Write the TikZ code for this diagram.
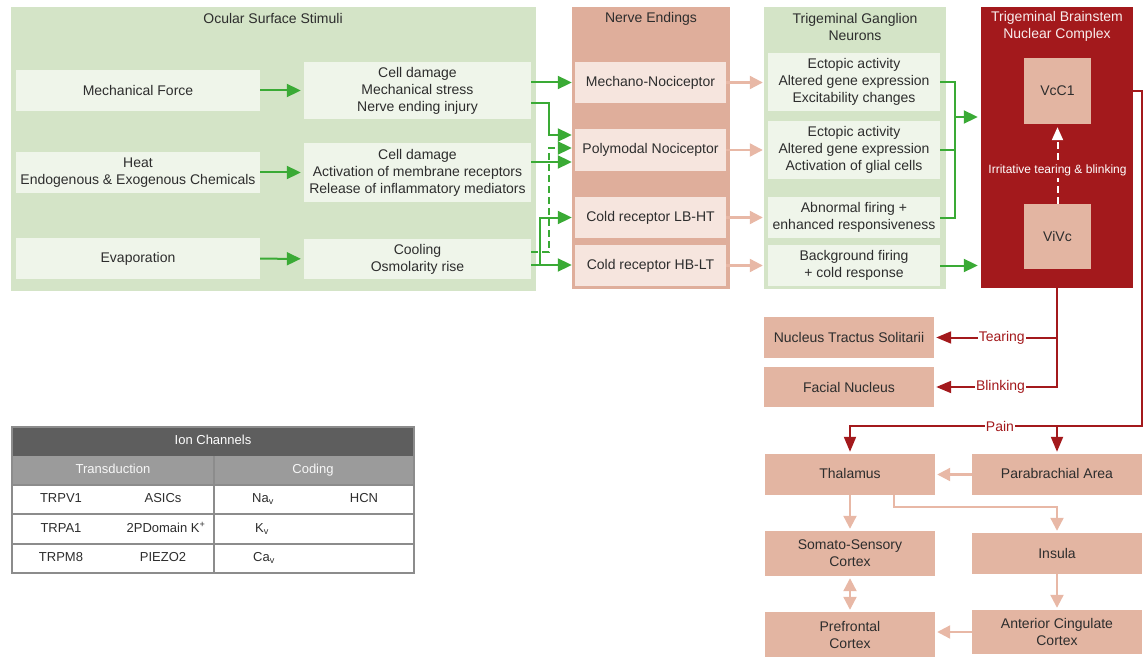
\documentclass[tikz,border=0pt]{standalone}
\usepackage{fontspec}
\setmainfont{Liberation Sans}
\definecolor{stimgreen}{RGB}{212,228,199}
\definecolor{boxgreen}{RGB}{239,245,234}
\definecolor{arrgreen}{RGB}{58,170,53}
\definecolor{nervesalmon}{RGB}{223,174,155}
\definecolor{boxsalmon}{RGB}{246,229,222}
\definecolor{lowsalmon}{RGB}{227,181,162}
\definecolor{arrsalmon}{RGB}{232,184,166}
\definecolor{brainred}{RGB}{163,25,28}
\definecolor{textgray}{RGB}{45,45,45}
\definecolor{tabdark}{RGB}{94,94,94}
\definecolor{tabmid}{RGB}{155,155,155}
\definecolor{tabline}{RGB}{140,140,140}
\usetikzlibrary{arrows.meta,positioning,calc}

\begin{document}
\begin{tikzpicture}[x=1pt,y=-1pt,
    txt/.style={font=\fontsize{14}{17}\selectfont, text=textgray, align=center},
    sz/.style 2 args={minimum width=#1pt, minimum height=#2pt},
    panel/.style={inner sep=0pt},
    gbox/.style={txt, fill=boxgreen, inner sep=0pt},
    sbox/.style={txt, fill=boxsalmon, inner sep=0pt},
    rbox/.style={txt, fill=lowsalmon, inner sep=0pt},
    lbox/.style={txt, fill=lowsalmon, inner sep=0pt},
    gline/.style={draw=arrgreen, line width=2pt},
    garr/.style={gline, shorten >=3pt, -{Triangle[length=14pt,width=13pt]}},
    sarr/.style={draw=arrsalmon, line width=2.2pt, shorten >=2pt, -{Triangle[length=13pt,width=13pt]}},
    rarr/.style={draw=brainred, line width=2pt, shorten >=2pt, -{Triangle[length=15pt,width=12pt]}},
    rlbl/.style={font=\fontsize{14}{17}\selectfont, text=brainred, fill=white, inner sep=1pt},
    tabtxt/.style={font=\fontsize{13}{15}\selectfont, text=textgray, text height=9.5pt, text depth=3pt}]
    \useasboundingbox (0,0) rectangle (1144,658);

    % Ocular surface stimuli
    \node[panel, fill=stimgreen, sz={525}{284}] (stim) at (273.5,149) {};
    \node[txt] (stimT) at (273,18) {Ocular Surface Stimuli};
    \node[gbox, sz={244}{41}] (mf) at (138,90.5) {Mechanical Force};
    \node[gbox, sz={227}{57}] (cd1) at (417.5,90.5) {Cell damage\\Mechanical stress\\Nerve ending injury};
    \node[gbox, sz={244}{41}] (heat) at (138,172.5) {Heat\\Endogenous \& Exogenous Chemicals};
    \node[gbox, sz={227}{59}] (cd2) at (417.5,172.5) {Cell damage\\Activation of membrane receptors\\Release of inflammatory mediators};
    \node[gbox, sz={244}{41}] (evap) at (138,258.5) {Evaporation};
    \node[gbox, sz={227}{40}] (cool) at (417.5,259) {Cooling\\Osmolarity rise};

    % Nerve endings
    \node[panel, fill=nervesalmon, sz={158}{282}] (nerve) at (651,148) {};
    \node[txt] (nerveT) at (651,19) {Nerve Endings};
    \node[sbox, sz={151}{41}] (mech) at (650.5,82.5) {Mechano-Nociceptor};
    \node[sbox, sz={151}{42}] (poly) at (650.5,150) {Polymodal Nociceptor};
    \node[sbox, sz={151}{41}] (lbht) at (650.5,217.5) {Cold receptor LB-HT};
    \node[sbox, sz={151}{41}] (hblt) at (650.5,265.5) {Cold receptor HB-LT};

    % Trigeminal ganglion
    \node[panel, fill=stimgreen, sz={182}{282}] (gang) at (855,148) {};
    \node[txt] (gangT) at (855,26.5) {Trigeminal Ganglion\\Neurons};
    \node[gbox, sz={172}{58}] (g1) at (854,82) {Ectopic activity\\Altered gene expression\\Excitability changes};
    \node[gbox, sz={172}{58}] (g2) at (854,150) {Ectopic activity\\Altered gene expression\\Activation of glial cells};
    \node[gbox, sz={172}{41}] (g3) at (854,217.5) {Abnormal firing +\\enhanced responsiveness};
    \node[gbox, sz={172}{41}] (g4) at (854,265.5) {Background firing\\+ cold response};

    % Brainstem
    \node[panel, fill=brainred, sz={152}{281}] (bs) at (1057,147.5) {};
    \node[txt, text=white!92!brainred] (bsT) at (1057,26) {Trigeminal Brainstem\\Nuclear Complex};
    \node[rbox, sz={67}{66}] (vcc) at (1057.5,91) {VcC1};
    \node[rbox, sz={67}{65}] (vivc) at (1057.5,236.5) {ViVc};
    \draw[draw=white, line width=2pt, dash pattern=on 7pt off 4pt, shorten >=3pt,
          -{Triangle[length=13pt,width=11pt]}] (vivc.north) -- node[pos=0.42, fill=brainred, text=white,
          font=\fontsize{12}{14}\selectfont, inner sep=2pt] (irrL) {Irritative tearing \& blinking} (vcc.south);

    % Projections
    \node[lbox, sz={170}{41}] (nts) at (849,337.5) {Nucleus Tractus Solitarii};
    \node[lbox, sz={170}{40}] (facial) at (849,387) {Facial Nucleus};
    \node[lbox, sz={170}{41}, text depth=3pt] (thal) at (850,474.5) {Thalamus};
    \node[lbox, sz={170}{41}, text depth=3pt] (para) at (1057,474.5) {Parabrachial Area};
    \node[lbox, sz={170}{45}] (somato) at (850,553.5) {Somato-Sensory\\Cortex};
    \node[lbox, sz={170}{41}] (insula) at (1057,553.5) {Insula};
    \node[lbox, sz={170}{45}] (pref) at (850,634.5) {Prefrontal\\Cortex};
    \node[lbox, sz={170}{44}] (acc) at (1057,632) {Anterior Cingulate\\Cortex};

    % Green arrows
    \coordinate (jA) at (549,135);
    \coordinate (jB) at (549,148);
    \coordinate (jC) at (540,217.5);
    \coordinate (jG) at (955,117);
    \draw[garr] (mf) -- (cd1);
    \draw[garr] (heat) -- (cd2);
    \draw[garr] (evap) -- (cool);
    \draw[garr] (cd1.east |- mech) -- (mech);
    \draw[garr] ($(cd1.east)+(0,12.5)$) -| (jA) -- (jA -| poly.west);
    \draw[garr, dash pattern=on 7pt off 4pt] ($(cool.east)+(0,-7)$) -| (jB) -- (jB -| poly.west);
    \draw[garr] ($(cd2.east)+(0,-10.5)$) coordinate (c2) -- (c2 -| poly.west);
    \draw[garr] ($(cool.east)+(0,6)$) coordinate (c3) -- (c3 -| hblt.west);
    \draw[garr] (c3) -| (jC) -- (jC -| lbht.west);
    \draw[gline] (g1.east) -| (jG |- g3.east) -- (g3.east);
    \draw[gline] (g2.east) -- (g2.east -| jG);
    \draw[garr] (jG) -- (jG -| bs.west);
    \draw[garr] (g4.east) -- (g4.east -| bs.west);

    % Salmon arrows
    \foreach \a/\b in {mech/g1, poly/g2, lbht/g3, hblt/g4} {
        \draw[sarr, shorten >=5pt] (\a.east) -- (\a.east -| \b.west);
    }
    \coordinate (jT) at (894,507);
    \draw[sarr] (para) -- (thal);
    \draw[sarr] (thal) -- (somato);
    \draw[sarr] (thal.south -| jT) -- (jT) -| (insula.north);
    \draw[sarr] (insula) -- (acc);
    \draw[sarr] (acc.west) -- (acc.west -| pref.east);
    \draw[sarr, shorten <=2pt, {Triangle[length=13pt,width=13pt]}-{Triangle[length=13pt,width=13pt]}] (somato) -- (pref);

    % Red arrows
    \coordinate (painR) at (1142,426);
    \draw[rarr] (bs.east |- vcc) -| (painR) -| (thal.north);
    \draw[rarr] (para.north |- painR) -- (para.north);
    \node[rlbl] (painL) at (1000,426) {Pain};
    \draw[rarr] (bs.south) |- node[rlbl, pos=0.73] (blinkL) {Blinking} (facial.east);
    \draw[rarr] (bs.south |- nts) -- node[rlbl, pos=0.45] (tearL) {Tearing} (nts.east);

    % Ion channel table
    \fill[tabdark] (12,427) rectangle (414,456);
    \fill[tabmid] (12,456) rectangle (414,485);
    \foreach \y in {485,514,544} {
        \draw[tabline, line width=1.2pt] (12,\y) -- (414,\y);
    }
    \draw[tabline, line width=1.2pt] (214,456) -- (214,573);
    \draw[tabline, line width=1.2pt] (12,427) rectangle (414,573);
    \node[tabtxt, text=white] (ionT) at (213,441) {Ion Channels};
    \node[tabtxt, text=white!92!tabmid] (transT) at (113,470.5) {Transduction};
    \node[tabtxt, text=white!92!tabmid] (codT) at (313,470.5) {Coding};
    \node[tabtxt] (trpv) at (61,499.5) {TRPV1};
    \node[tabtxt] (asic) at (163,499.5) {ASICs};
    \node[tabtxt] (nav) at (263,499.5) {Na\textsubscript{v}};
    \node[tabtxt] (hcn) at (364,499.5) {HCN};
    \node[tabtxt] (trpa) at (61,529) {TRPA1};
    \node[tabtxt] (kdom) at (166,529) {2PDomain K\textsuperscript{+}};
    \node[tabtxt] (kv) at (262,529) {K\textsubscript{v}};
    \node[tabtxt] (trpm) at (61,558.5) {TRPM8};
    \node[tabtxt] (piezo) at (163,558.5) {PIEZO2};
    \node[tabtxt] (cav) at (264,558.5) {Ca\textsubscript{v}};
\end{tikzpicture}
\end{document}
